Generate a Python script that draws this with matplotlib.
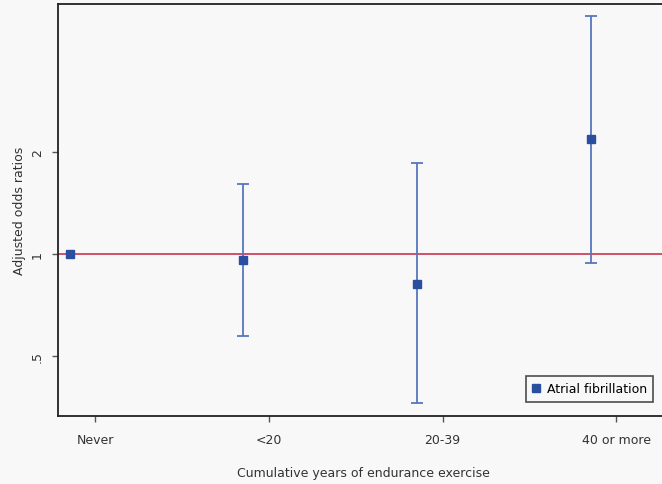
import numpy as np
import matplotlib.pyplot as plt

# data (odds ratios, log scale)
categories = ['Never', '<20', '20-39', '40 or more']
odds = [1.0, 0.96, 0.816, 2.18]
ci_low = [1.0, 0.573, 0.363, 0.94]
ci_high = [1.0, 1.61, 1.856, 5.04]
yticks = [0.5, 1, 2]
ytick_labels = ['.5', '1', '2']

plt.rcParams['font.family'] = 'DejaVu Sans'
plt.rcParams['font.size'] = 9

fig = plt.figure(figsize=(6.62, 4.85), dpi=100)
fig.patch.set_facecolor('#f8f8f8')
ax = fig.add_axes([58/662, 1 - 417/485, 1.01 - 58/662, (417 - 5)/485])
ax.set_facecolor('#f8f8f8')

x = np.arange(len(categories))
odds = np.array(odds)
err = np.array([odds - np.array(ci_low), np.array(ci_high) - odds])

ax.axhline(1, color='#d0506a', lw=1.4, zorder=1)
ax.errorbar(x[1:], odds[1:], yerr=err[:, 1:], fmt='none', ecolor='#5577bb',
            elinewidth=1.3, capsize=4, capthick=1.3, zorder=2)
ax.plot(x, odds, 's', color='#2a4fa0', ms=6, ls='none', zorder=3,
        label='Atrial fibrillation')

ax.set_yscale('log')
ax.set_ylim(0.333, 5.47)
ax.set_yticks(yticks)
ax.set_yticklabels(ytick_labels, rotation=90, va='center', color='#333333')
ax.yaxis.set_minor_locator(plt.NullLocator())

ax.set_xlim(-0.069, 3.45)
ax.set_xticks(x + 0.147)
ax.set_xticklabels(categories, color='#333333')

ax.tick_params(axis='both', direction='out', length=4, width=1, color='#555555')
ax.tick_params(axis='y', pad=6)
ax.tick_params(axis='x', pad=8)
for s in ['left', 'top', 'bottom']:
    ax.spines[s].set_linewidth(1.3)
    ax.spines[s].set_color('#222222')
ax.spines['right'].set_visible(False)

ax.set_ylabel('Adjusted odds ratios', color='#333333', labelpad=4)
ax.set_xlabel('Cumulative years of endurance exercise', color='#333333', labelpad=15)

leg = ax.legend(loc='lower right', bbox_to_anchor=(0.985, 0.02), frameon=True,
                fancybox=False, handlelength=0.6, handletextpad=0.6,
                borderpad=0.5, markerscale=0.9)
leg.get_frame().set_edgecolor('#222222')
leg.get_frame().set_linewidth(1.2)
leg.get_frame().set_facecolor('#f8f8f8')

fig.savefig('out.png', dpi=100, facecolor=fig.get_facecolor())
